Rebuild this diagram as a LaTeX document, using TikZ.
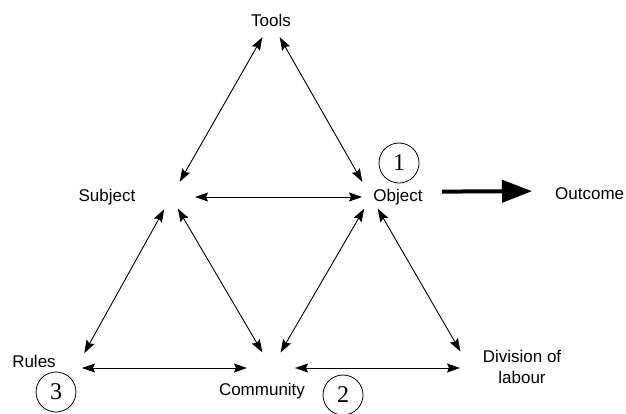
\documentclass[tikz,border=0pt]{standalone}
\usepackage{fontspec}
\setmainfont{Liberation Sans}
\newfontfamily\numfont{Liberation Serif}
\usetikzlibrary{arrows.meta}
\begin{document}
\begin{tikzpicture}[x=1pt,y=-1pt,
  lbl/.style={inner sep=0pt, font=\fontsize{17}{21}\selectfont},
  link/.style={line width=0.9pt, {Stealth[length=13pt,width=9pt,inset=2pt]}-{Stealth[length=13pt,width=9pt,inset=2pt]}},
  outarrow/.style={line width=4pt, -{Triangle[length=30pt,width=22pt]}},
  numcirc/.style={circle, draw, line width=0.8pt, minimum size=40pt, inner sep=0pt, font=\numfont\fontsize{24}{24}\selectfont}]
\useasboundingbox (0,0) rectangle (626,414);
% hubs
\coordinate (hT) at (271,22);
\coordinate (hS) at (171,197);
\coordinate (hO) at (371,197);
\coordinate (hR) at (76,368);
\coordinate (hC) at (271.5,368);
\coordinate (hD) at (470,368);
% links
\draw[link, shorten <=17.5pt, shorten >=17.5pt] (hT) -- (hS);
\draw[link, shorten <=17.5pt, shorten >=17.5pt] (hT) -- (hO);
\draw[link, shorten <=24pt, shorten >=9pt] (hS) -- (hO);
\draw[link, shorten <=14pt, shorten >=17pt] (hS) -- (hR);
\draw[link, shorten <=13.6pt, shorten >=18pt] (hS) -- (hC);
\draw[link, shorten <=13.6pt, shorten >=18pt] (hO) -- (hC);
\draw[link, shorten <=13.6pt, shorten >=19pt] (hO) -- (hD);
\draw[link, shorten <=6pt, shorten >=24.5pt] (hR) -- (hC);
\draw[link, shorten <=23.5pt, shorten >=10pt] (hC) -- (hD);
% labels
\node[lbl, anchor=base] (tools) at (271,27) {Tools};
\node[lbl, anchor=base] (subject) at (107,201) {Subject};
\node[lbl, anchor=base] (object) at (398,201) {Object};
\node[lbl, anchor=base west] (outcome) at (555,200) {Outcome};
\node[lbl, anchor=base] (rules) at (34,367) {Rules};
\node[lbl, anchor=base] (community) at (262,395) {Community};
\node[lbl, align=center, anchor=center] (division) at (522,366.5) {Division of\\labour};
% numbered circles
\node[numcirc] (c1) at (399,163) {1};
\node[numcirc] (c3) at (56,392) {3};
\node[numcirc] (c2) at (343,395) {2};
% outcome arrow
\draw[outarrow] ([xshift=19pt,yshift=5pt]object.east) -- ([xshift=-23pt,yshift=3pt]outcome.west);
\end{tikzpicture}
\end{document}
